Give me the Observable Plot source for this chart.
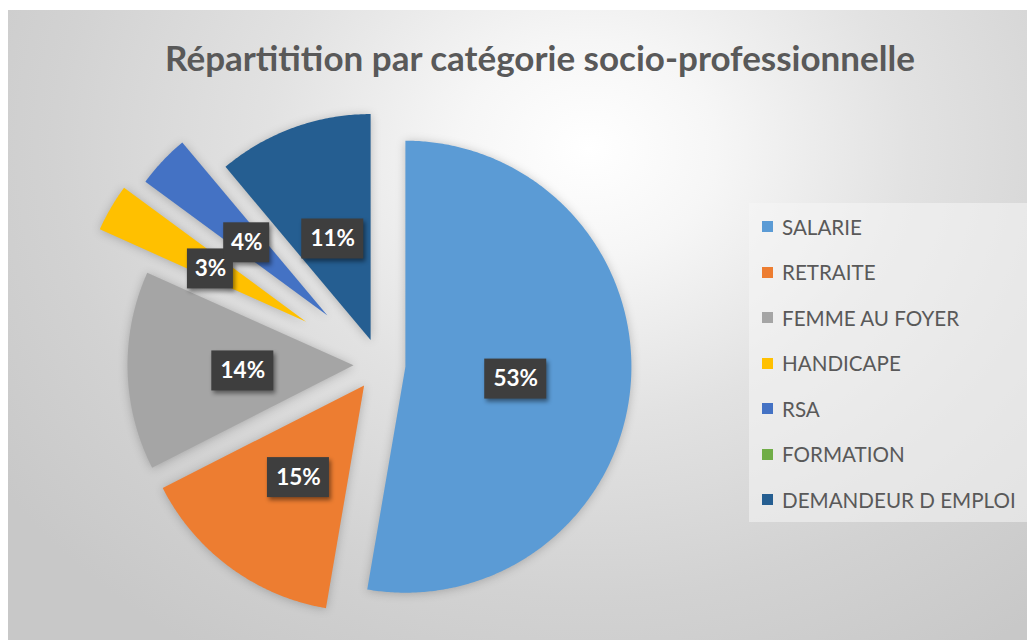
<!DOCTYPE html>
<html>
<head>
<meta charset="utf-8">
<script src="https://cdn.jsdelivr.net/npm/d3@7"></script>
<script src="https://cdn.jsdelivr.net/npm/@observablehq/plot@0.6"></script>
<style>
  body { margin: 0; background: #ffffff; }
  #chart {
    position: absolute; left: 8px; top: 10px; width: 1019px; height: 630px; overflow: hidden;
    background: radial-gradient(ellipse 70% 95% at 57% 22%, #ffffff 0%, #f6f6f6 18%, #e2e2e2 45%, #d2d2d2 75%, #c8c8c8 100%);
    font-family: Lato, "Open Sans", sans-serif;
  }
  #title {
    position: absolute; left: 0; width: 1064px; top: 27px; text-align: center;
    font-size: 35px; line-height: 40px; font-weight: bold; color: #595959;
  }
  #plot { position: absolute; left: 0; top: 0; }
  #legend {
    position: absolute; left: 741px; top: 193px; width: 300px; height: 319px;
    background: rgba(245,245,245,0.55); box-sizing: border-box; padding-top: 1px;
  }
  .item { height: 45.5px; display: flex; align-items: center; color: #595959; font-size: 20.6px; white-space: nowrap; }
  .sw { width: 11px; height: 11px; margin-left: 13px; margin-right: 9px; flex: none; }
</style>
</head>
<body>
<div id="chart">
  <div id="plot"></div>
  <div id="title"></div>
  <div id="legend"></div>
</div>
<script>
// ---- data ----
const title = "Répartitition par catégorie socio-professionnelle";
const categories = ["SALARIE", "RETRAITE", "FEMME AU FOYER", "HANDICAPE", "RSA", "FORMATION", "DEMANDEUR D EMPLOI"];
const values = [52.7, 14.8, 14.2, 3.4, 3.8, 0, 11.1];
// ---- styles ----
const colors = ["#5b9bd5", "#ed7d31", "#a5a5a5", "#ffc000", "#4472c4", "#70ad47", "#255e91"];
const explode = [0.115, 0.115, 0.115, 0.376, 0.316, 0, 0.115];

const W = 1019, H = 630, CX = 371, CY = 354, R = 226;
const total = d3.sum(values);
const arcs = d3.pie().sort(null).startAngle(0).endAngle(2 * Math.PI)(values);

const slices = [];
const labels = [];
arcs.forEach((a, i) => {
  if (a.value <= 0) return;
  const m = (a.startAngle + a.endAngle) / 2;
  const ox = Math.sin(m) * explode[i], oy = Math.cos(m) * explode[i];
  const pts = [{x: ox, y: oy}];
  const n = Math.max(2, Math.ceil((a.endAngle - a.startAngle) / (Math.PI / 360)));
  for (let k = 0; k <= n; k++) {
    const t = a.startAngle + (a.endAngle - a.startAngle) * k / n;
    pts.push({x: ox + Math.sin(t), y: oy + Math.cos(t)});
  }
  slices.push({pts, color: colors[i]});
  const text = Math.round(a.value / total * 100) + "%";
  const lx = ox + Math.sin(m) * 0.49, ly = oy + Math.cos(m) * 0.49 - 3 / R;
  const hw = (text.length > 2 ? 31 : 23) / R, hh = 20 / R;
  labels.push({x: lx, y: ly, text, x1: lx - hw, x2: lx + hw, y1: ly - hh, y2: ly + hh});
});

const svg = Plot.plot({
  width: W, height: H, margin: 0,
  x: {domain: [-CX / R, (W - CX) / R], axis: null},
  y: {domain: [-(H - CY) / R, CY / R], axis: null},
  style: {background: "transparent", overflow: "visible"},
  marks: [
    ...slices.map(s => Plot.line(s.pts, {x: "x", y: "y", fill: s.color, stroke: "none", curve: "linear-closed"})),
    Plot.rect(labels, {x1: "x1", x2: "x2", y1: "y1", y2: "y2", fill: "#3e3e3e"}),
    Plot.text(labels, {x: "x", y: "y", text: "text", fill: "white", fontSize: 22.5, fontWeight: "bold", fontFamily: "Lato, sans-serif"})
  ]
});
svg.querySelectorAll('g[aria-label="line"]').forEach(g => g.style.filter = "drop-shadow(0px 1px 5px rgba(0,0,0,0.22))");
svg.querySelectorAll('g[aria-label="rect"]').forEach(g => g.style.filter = "drop-shadow(2px 3px 2px rgba(0,0,0,0.45))");
document.getElementById("plot").appendChild(svg);

document.getElementById("title").textContent = title;
const legend = document.getElementById("legend");
categories.forEach((c, i) => {
  const row = document.createElement("div");
  row.className = "item";
  const sw = document.createElement("span");
  sw.className = "sw";
  sw.style.background = colors[i];
  row.appendChild(sw);
  row.appendChild(document.createTextNode(c));
  legend.appendChild(row);
});
</script>
</body>
</html>
